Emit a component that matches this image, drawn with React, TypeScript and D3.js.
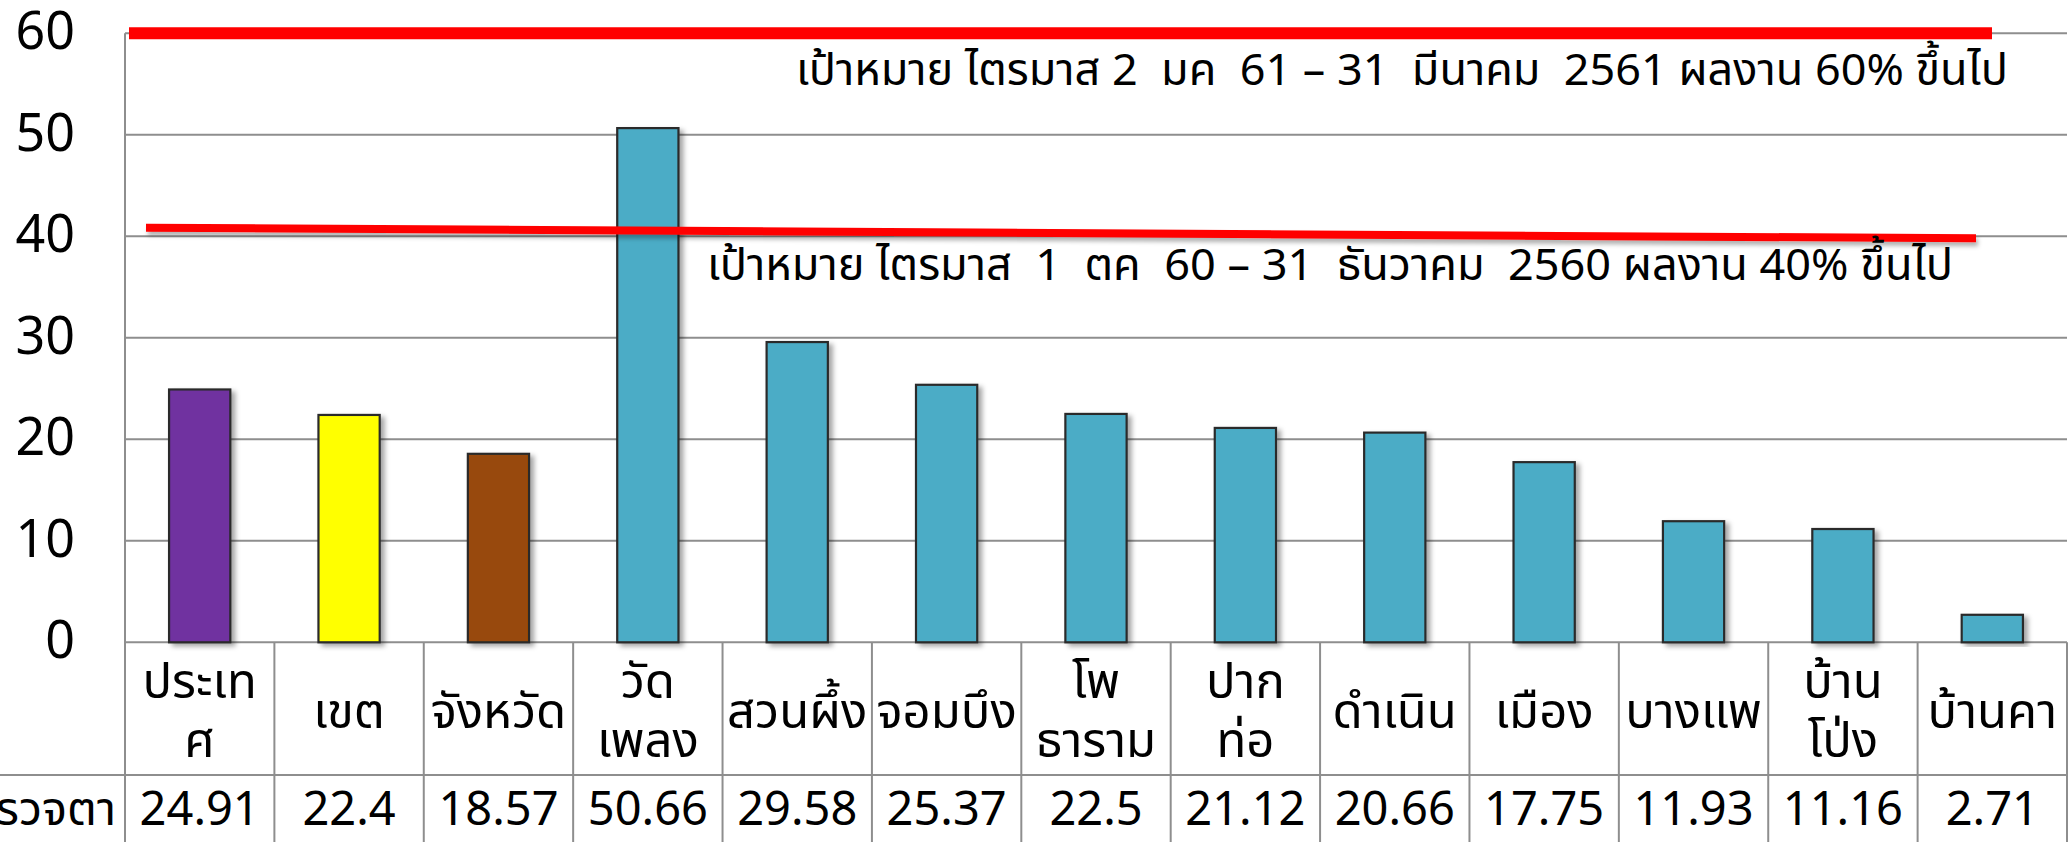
import React from "react";
import * as d3 from "d3";

const categories = ["ประเทศ", "เขต", "จังหวัด", "วัดเพลง", "สวนผึ้ง", "จอมบึง", "โพธาราม", "ปากท่อ", "ดำเนิน", "เมือง", "บางแพ", "บ้านโป่ง", "บ้านคา"];
const categoryLines = [["ประเท", "ศ"], ["เขต"], ["จังหวัด"], ["วัด", "เพลง"], ["สวนผึ้ง"], ["จอมบึง"], ["โพ", "ธาราม"], ["ปาก", "ท่อ"], ["ดำเนิน"], ["เมือง"], ["บางแพ"], ["บ้าน", "โป่ง"], ["บ้านคา"]];
const values = [24.91, 22.4, 18.57, 50.66, 29.58, 25.37, 22.5, 21.12, 20.66, 17.75, 11.93, 11.16, 2.71];
const valueLabels = ["24.91", "22.4", "18.57", "50.66", "29.58", "25.37", "22.5", "21.12", "20.66", "17.75", "11.93", "11.16", "2.71"];
const barColors = ["#7030A0", "#FFFF00", "#984807", "#4BACC6", "#4BACC6", "#4BACC6", "#4BACC6", "#4BACC6", "#4BACC6", "#4BACC6", "#4BACC6", "#4BACC6", "#4BACC6"];
const yTicks = [0, 10, 20, 30, 40, 50, 60];
const rowLabel = "รวจตา";
const targetStart = [60, 40.85];
const targetEnd = [60, 39.8];
const targetLabels = [
  "เป้าหมาย ไตรมาส 2  มค  61 – 31  มีนาคม  2561 ผลงาน 60% ขึ้นไป",
  "เป้าหมาย ไตรมาส  1  ตค  60 – 31  ธันวาคม  2560 ผลงาน 40% ขึ้นไป",
];

const W = 2069;
const H = 842;
const FONT = "Tahoma, 'Noto Sans Thai', Loma, Garuda, 'DejaVu Sans', sans-serif";

export default function App() {
  const left = 125;
  const right = 2067;
  const y = d3.scaleLinear().domain([0, 60]).range([642.3, 33.3]);
  const x = d3.scaleBand<string>().domain(categories).range([left, right]).paddingInner(0.59).paddingOuter(0.295);
  const step = x.step();
  const rowTop = y(0);
  const rowMid = 775;
  const grid = "#8e8e8e";

  const lineX = [[129, 1992], [146, 1976]];
  const lineW = [12, 8];
  const labelPos = [[796, 85], [707, 280]];
  const labelLen = [1212, 1246];

  return (
    <svg width={W} height={H} style={{ position: "absolute", left: 0, top: 0, background: "#fff" }} fontFamily={FONT}>
      <defs>
        <filter id="sh" x="-20%" y="-5%" width="160%" height="120%">
          <feDropShadow dx="4" dy="3" stdDeviation="2.5" floodColor="#000" floodOpacity="0.35" />
        </filter>
        <filter id="lsh" x="-5%" y="-200%" width="110%" height="500%">
          <feDropShadow dx="2" dy="4" stdDeviation="2" floodColor="#000" floodOpacity="0.3" />
        </filter>
      </defs>
      <rect width={W} height={H} fill="#fff" />
      {yTicks.map((t) => (
        <g key={t}>
          <line x1={left} x2={right} y1={y(t)} y2={y(t)} stroke={grid} strokeWidth={2} />
          <text x={75} y={y(t)} fontSize={52} textAnchor="end" dominantBaseline="central" fill="#000">{t}</text>
        </g>
      ))}
      <line x1={left} x2={left} y1={y(60)} y2={H} stroke={grid} strokeWidth={2} />
      {values.map((v, i) => (
        <rect key={i} x={x(categories[i])} y={y(v)} width={x.bandwidth()} height={y(0) - y(v)} fill={barColors[i]} stroke="#2b2b2b" strokeWidth={2.2} filter="url(#sh)" />
      ))}
      {/* table */}
      <line x1={left} x2={right} y1={rowMid} y2={rowMid} stroke={grid} strokeWidth={2} />
      <line x1={0} x2={left} y1={rowMid} y2={rowMid} stroke={grid} strokeWidth={2} />
      {categories.map((c, i) => (
        <line key={c} x1={left + (i + 1) * step} x2={left + (i + 1) * step} y1={rowTop} y2={H} stroke={grid} strokeWidth={2} />
      ))}
      {categoryLines.map((lines, i) => {
        const cx = left + (i + 0.5) * step;
        if (lines.length === 1) {
          return <text key={i} x={cx} y={728} fontSize={49} textAnchor="middle" fill="#000">{lines[0]}</text>;
        }
        return (
          <text key={i} x={cx} fontSize={49} textAnchor="middle" fill="#000">
            <tspan x={cx} y={698}>{lines[0]}</tspan>
            <tspan x={cx} y={757}>{lines[1]}</tspan>
          </text>
        );
      })}
      {valueLabels.map((s, i) => (
        <text key={i} x={left + (i + 0.5) * step} y={825} fontSize={47} textAnchor="middle" fill="#000">{s}</text>
      ))}
      <text x={116} y={825} fontSize={47} textAnchor="end" fill="#000">{rowLabel}</text>
      {/* target lines */}
      {targetStart.map((s, i) => (
        <line key={i} x1={lineX[i][0]} x2={lineX[i][1]} y1={y(s)} y2={y(targetEnd[i])} stroke="#FF0000" strokeWidth={lineW[i]} filter={i === 1 ? "url(#lsh)" : undefined} />
      ))}
      {targetLabels.map((t, i) => (
        <text key={i} x={labelPos[i][0]} y={labelPos[i][1]} fontSize={44} fill="#000" textLength={labelLen[i]} lengthAdjust="spacingAndGlyphs" style={{ whiteSpace: "pre" }}>{t}</text>
      ))}
    </svg>
  );
}
